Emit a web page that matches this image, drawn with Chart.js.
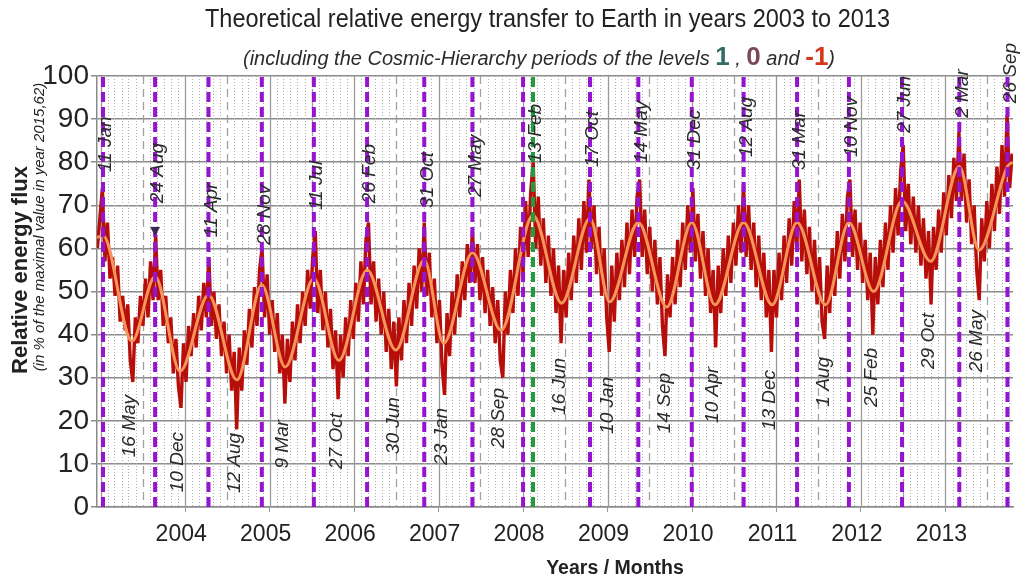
<!DOCTYPE html>
<html>
<head>
<meta charset="utf-8">
<script src="https://cdn.jsdelivr.net/npm/chart.js@4.4.1/dist/chart.umd.min.js"></script>
<style>
  html, body { margin: 0; padding: 0; background: #fff; }
  canvas { display: block; }
</style>
</head>
<body>
<canvas id="c" width="1029" height="579" style="width:1029px;height:579px"></canvas>
<script>
// ---- Data ---------------------------------------------------------------

// Year labels on the time axis
const yearTicks = [2004, 2005, 2006, 2007, 2008, 2009, 2010, 2011, 2012, 2013];

// Level 0 periods (maxima of the energy transfer)
const peakDates = ['2003-01-11', '2003-08-24', '2004-04-11', '2004-11-28', '2005-07-11',
  '2006-02-26', '2006-10-31', '2007-05-27', '2008-02-13', '2008-10-17', '2009-05-14',
  '2009-12-31', '2010-08-12', '2011-03-31', '2011-11-10', '2012-06-27', '2013-03-02',
  '2013-09-26'];
// Level 1 period
const levelOneDate = '2008-02-13';
// Additional level 0 period without a label
const extraPeriodDates = ['2008-01-01'];

// Minima of the energy transfer
const troughDates = ['2003-05-16', '2003-12-10', '2004-08-12', '2005-03-09', '2005-10-27',
  '2006-06-30', '2007-01-23', '2007-09-28', '2008-06-16', '2009-01-10', '2009-09-14',
  '2010-04-10', '2010-12-13', '2011-08-01', '2012-02-25', '2012-10-29', '2013-05-26'];

// Smoothed relative energy flux (orange curve)
const smoothDates = ['2002-12-16', '2003-01-11', '2003-05-16', '2003-08-24', '2003-12-10',
  '2004-04-11', '2004-08-12', '2004-11-28', '2005-03-09', '2005-07-11', '2005-10-27',
  '2006-02-26', '2006-06-30', '2006-10-31', '2007-01-23', '2007-05-27', '2007-09-28',
  '2008-02-13', '2008-06-16', '2008-10-17', '2009-01-10', '2009-05-14', '2009-09-14',
  '2009-12-31', '2010-04-10', '2010-08-12', '2010-12-13', '2011-03-31', '2011-08-01',
  '2011-11-10', '2012-02-25', '2012-06-27', '2012-10-29', '2013-03-02', '2013-05-26',
  '2013-09-26', '2013-10-18'];
const smoothFlux = [62.5, 63, 38.5, 53.5, 31.5, 49.2, 29.5, 51.5, 32.5, 53, 34, 55, 36.4,
  57.3, 38, 59, 41, 67.7, 47.3, 67, 47.6, 66, 46.4, 66, 46.9, 66, 46.9, 66, 46.9, 66, 50,
  71, 57, 79, 59.6, 79, 80];

// Daily-scale relative energy flux (dark red curve), sampled every 0.03 year
const fluxStart = 2002.96;
const fluxStep = 0.03;
const rawFlux = [
  60, 67, 74, 57, 66, 53, 58, 49, 56, 43, 49, 41, 47, 34,
  29, 44, 38, 49, 42, 53, 44, 57, 48,
  63, 48, 55, 42, 49, 38, 44, 31, 39, 28,
  23, 38, 29, 42, 35, 45, 37, 49, 41, 52, 44,
  58, 42, 50, 39, 47, 35, 43, 31, 40, 27, 36,
  18, 37, 27, 41, 33, 46, 37, 51, 42, 55,
  60, 44, 54, 40, 48, 36, 45, 31, 40, 24,
  39, 29, 43, 34, 47, 38, 50, 42, 55, 46, 58,
  64, 45, 55, 41, 50, 37, 46, 32, 41, 25,
  40, 30, 44, 35, 48, 39, 52, 43, 57, 47, 62,
  66, 47, 57, 43, 53, 40, 50, 36, 46, 32, 43,
  28, 44, 34, 48, 38, 52, 42, 56, 46, 60, 50,
  66, 49, 59, 44, 53, 38, 48, 33,
  26, 45, 35, 50, 40, 54, 44, 57, 48, 61, 52,
  64, 52, 61, 48, 58, 45, 55, 42, 51, 38, 48, 34,
  30, 50, 40, 55, 45, 60, 49, 65, 54, 71, 58, 73,
  80, 60, 72, 56, 67, 52, 63, 49, 60, 45, 56, 38,
  55, 44, 59, 48, 63, 52, 67, 55, 71, 59, 76,
  60, 70, 54, 65, 49, 60, 44, 36,
  56, 43, 59, 48, 62, 51, 66, 54, 69, 58, 72,
  76, 58, 69, 54, 65, 50, 62, 47, 58, 42, 35,
  54, 44, 58, 47, 62, 51, 66, 55, 70, 59,
  74, 57, 68, 53, 64, 49, 60, 45, 55,
  37, 56, 45, 60, 49, 63, 52, 66, 56, 70, 59,
  75, 58, 70, 55, 66, 51, 63, 48, 59, 44, 55, 36,
  55, 44, 59, 48, 63, 52, 67, 56, 71, 60,
  76, 57, 69, 54, 65, 50, 62, 47, 58, 43, 39,
  56, 45, 60, 49, 64, 53, 68, 57, 72,
  76, 58, 69, 55, 66, 52, 62, 48, 59, 40,
  58, 47, 62, 51, 66, 55, 70, 59, 74, 63, 78,
  84, 64, 75, 61, 72, 59, 70, 56, 67, 53, 64,
  47, 65, 55, 69, 59, 73, 63, 77, 67, 81, 71, 87,
  71, 82, 66, 76, 61, 70, 55,
  48, 67, 57, 71, 60, 75, 64, 79, 68, 84, 72, 91, 74, 82
];

// Marker above the 24 Aug 2003 maximum
const markerDate = '2003-08-24';
const markerFlux = 64.3;

// ---- Label layout (flux level where each date label starts / ends) -------
const peakLabelLevel = [77.7, 70.5, 62.6, 60.8, 68.9, 70.5, 69.4, 71.9, 79.8, 78.9, 79.8,
  78.2, 81.2, 78.2, 81.2, 86.8, 90.3, 93.7];
const troughLabelLevel = [26, 17.4, 17.2, 20.2, 21.8, 25.5, 23, 27.6, 34.6, 30.2, 31.1,
  32.5, 31.8, 34.8, 36.9, 45, 45.7];

// ---- Helpers ----------------------------------------------------------
const MONTHS = ['Jan', 'Feb', 'Mar', 'Apr', 'May', 'Jun', 'Jul', 'Aug', 'Sep', 'Oct', 'Nov', 'Dec'];
function toYear(s) {
  const [y, m, d] = s.split('-').map(Number);
  const a = Date.UTC(y, 0, 1), b = Date.UTC(y + 1, 0, 1);
  return y + (Date.UTC(y, m - 1, d) - a) / (b - a);
}
function dayMonth(s) {
  const [, m, d] = s.split('-').map(Number);
  return d + ' ' + MONTHS[m - 1];
}

const X_MIN = 2002.956;
const X_MAX = 2013.80;
const SANS = '"Liberation Sans", Arial, sans-serif';
const NARROW = '"Liberation Sans Narrow", "Liberation Sans", Arial, sans-serif';

Chart.defaults.font.family = SANS;

// ---- Datasets -----------------------------------------------------------
const PURPLE = '#9414cf';
const GREEN = '#1f9d3c';

function verticalLine(date, color) {
  const t = toYear(date);
  return {
    type: 'line',
    data: [{ x: t, y: 0 }, { x: t, y: 100 }],
    borderColor: color,
    borderWidth: 4,
    borderDash: [10, 5],
    pointRadius: 0,
    fill: false,
    order: 1
  };
}

const datasets = [];
datasets.push({
  data: [{ x: toYear(markerDate), y: markerFlux }],
  showLine: false,
  pointStyle: 'triangle',
  rotation: 180,
  pointRadius: 5,
  backgroundColor: '#3a2650',
  borderColor: '#3a2650',
  order: 0
});
peakDates.filter(d => d !== levelOneDate).concat(extraPeriodDates)
  .forEach(d => datasets.push(verticalLine(d, PURPLE)));
datasets.push(verticalLine(levelOneDate, GREEN));
datasets.push({
  data: smoothDates.map((d, i) => ({ x: toYear(d), y: smoothFlux[i] })),
  borderColor: '#f5955a',
  borderWidth: 3,
  pointRadius: 0,
  cubicInterpolationMode: 'monotone',
  fill: false,
  order: 2
});
datasets.push({
  data: rawFlux.map((v, i) => ({ x: fluxStart + i * fluxStep, y: v })),
  borderColor: '#b80e0a',
  borderWidth: 3.4,
  borderJoinStyle: 'bevel',
  pointRadius: 0,
  tension: 0,
  fill: false,
  order: 3
});

// ---- Plugins ------------------------------------------------------------

// Monthly dotted lines, mid-year dashed lines and year lines
const timeGrid = {
  id: 'timeGrid',
  beforeDatasetsDraw(chart) {
    const { ctx, chartArea: a, scales: { x } } = chart;
    ctx.save();
    ctx.beginPath();
    ctx.rect(a.left, a.top, a.right - a.left, a.bottom - a.top);
    ctx.clip();
    for (let y = 2002; y <= 2013; y++) {
      for (let m = 0; m < 12; m++) {
        const t = toYear(y + '-' + String(m + 1).padStart(2, '0') + '-01');
        if (t < X_MIN || t > X_MAX) continue;
        const px = Math.round(x.getPixelForValue(t)) + 0.5;
        ctx.beginPath();
        if (m === 0) { ctx.strokeStyle = '#9a9a9a'; ctx.lineWidth = 1.3; ctx.setLineDash([]); }
        else if (m === 6) { ctx.strokeStyle = '#a0a0a0'; ctx.lineWidth = 1.3; ctx.setLineDash([8, 5]); }
        else { ctx.strokeStyle = '#b0b0b0'; ctx.lineWidth = 1; ctx.setLineDash([1, 2]); }
        ctx.moveTo(px, a.top);
        ctx.lineTo(px, a.bottom);
        ctx.stroke();
      }
    }
    ctx.restore();
  }
};

// Rotated date labels at maxima and minima
const dateLabels = {
  id: 'dateLabels',
  afterDatasetsDraw(chart) {
    const { ctx, scales: { x, y } } = chart;
    ctx.save();
    ctx.font = 'italic 19px ' + SANS;
    ctx.fillStyle = '#2b2b2b';
    ctx.textBaseline = 'middle';
    const put = (date, level, align, dx) => {
      ctx.save();
      ctx.translate(x.getPixelForValue(toYear(date)) + dx, y.getPixelForValue(level));
      ctx.rotate(-Math.PI / 2);
      ctx.textAlign = align;
      ctx.fillText(dayMonth(date), 0, 0);
      ctx.restore();
    };
    peakDates.forEach((d, i) => put(d, peakLabelLevel[i], 'left', 3));
    troughDates.forEach((d, i) => put(d, troughLabelLevel[i], 'right', -2));
    ctx.restore();
  }
};

// Titles
const titles = {
  id: 'titles',
  afterDraw(chart) {
    const ctx = chart.ctx;
    ctx.save();
    ctx.fillStyle = '#222';
    ctx.textBaseline = 'alphabetic';

    // main title, condensed to its column width
    const title = 'Theoretical relative energy transfer to Earth in years 2003 to 2013';
    ctx.font = '25px ' + NARROW;
    const tw = ctx.measureText(title).width;
    ctx.save();
    ctx.translate(205, 27);
    ctx.scale(685 / tw, 1);
    ctx.textAlign = 'left';
    ctx.fillText(title, 0, 0);
    ctx.restore();

    // subtitle with coloured level numbers
    const parts = [
      { t: '(including the Cosmic-Hierarchy periods of the levels ', f: 'italic 20px ' + NARROW, c: '#2b2b2b' },
      { t: '1', f: 'bold 26px ' + NARROW, c: '#356b6b' },
      { t: ' , ', f: 'italic 20px ' + NARROW, c: '#2b2b2b' },
      { t: '0', f: 'bold 26px ' + NARROW, c: '#7a4a5c' },
      { t: ' and ', f: 'italic 20px ' + NARROW, c: '#2b2b2b' },
      { t: '-1', f: 'bold 26px ' + NARROW, c: '#d8361a' },
      { t: ')', f: 'italic 20px ' + NARROW, c: '#2b2b2b' }
    ];
    let sw = 0;
    parts.forEach(p => { ctx.font = p.f; p.w = ctx.measureText(p.t).width; sw += p.w; });
    ctx.save();
    ctx.translate(243, 65);
    ctx.scale(592 / sw, 1);
    let cx = 0;
    parts.forEach(p => { ctx.font = p.f; ctx.fillStyle = p.c; ctx.textAlign = 'left'; ctx.fillText(p.t, cx, 0); cx += p.w; });
    ctx.restore();

    // y axis title
    ctx.fillStyle = '#222';
    ctx.save();
    ctx.translate(21, 270);
    ctx.rotate(-Math.PI / 2);
    ctx.textAlign = 'center';
    ctx.textBaseline = 'middle';
    ctx.font = 'bold 22px ' + SANS;
    ctx.fillText('Relative energy flux', 0, 0);
    ctx.restore();
    ctx.save();
    ctx.translate(40, 227);
    ctx.rotate(-Math.PI / 2);
    ctx.textAlign = 'center';
    ctx.textBaseline = 'middle';
    ctx.font = 'italic 15px ' + SANS;
    ctx.fillText('(in % of the maximal value in year 2015,62)', 0, 0);
    ctx.restore();

    // x axis title
    ctx.textAlign = 'center';
    ctx.textBaseline = 'alphabetic';
    ctx.font = 'bold 19.5px ' + SANS;
    ctx.fillText('Years / Months', 615, 574);
    ctx.restore();
  }
};

// ---- Chart --------------------------------------------------------------
new Chart(document.getElementById('c'), {
  type: 'line',
  data: { datasets },
  plugins: [timeGrid, dateLabels, titles],
  options: {
    responsive: false,
    animation: false,
    events: [],
    layout: { padding: { top: 76, right: 16, bottom: 0, left: 0 } },
    plugins: {
      legend: { display: false },
      tooltip: { enabled: false },
      title: { display: false }
    },
    scales: {
      x: {
        type: 'linear',
        min: X_MIN,
        max: X_MAX,
        afterBuildTicks: s => { s.ticks = yearTicks.map(v => ({ value: v })); },
        afterFit: s => { s.height = 72; },
        ticks: {
          autoSkip: false,
          maxRotation: 0,
          padding: 9,
          labelOffset: -4,
          color: '#222',
          font: { size: 23, family: SANS },
          callback: v => String(v)
        },
        grid: { drawOnChartArea: false, tickLength: 5, color: '#999' },
        border: { color: '#8a8a8a', width: 1.5 }
      },
      y: {
        min: 0,
        max: 100,
        afterFit: s => { s.width = 97; },
        ticks: {
          stepSize: 10,
          padding: 2,
          color: '#222',
          font: { size: 28, family: SANS }
        },
        grid: { color: '#8c8c8c', lineWidth: 1.5, tickLength: 6 },
        border: { color: '#8a8a8a', width: 1.5 }
      }
    }
  }
});
</script>
</body>
</html>
